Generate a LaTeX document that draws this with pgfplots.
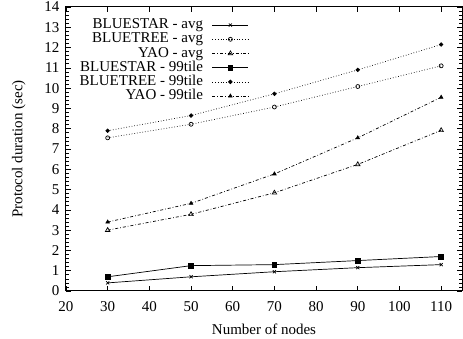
\documentclass[border=0pt]{standalone}
\usepackage{fontspec}
\setmainfont{Liberation Serif}
\usepackage{pgfplots}
\pgfplotsset{compat=1.18}
\begin{document}
\begin{tikzpicture}
\begin{axis}[
  name=main,
  scale only axis,
  width=396pt, height=284pt,
  xmin=20, xmax=115, ymin=0, ymax=14,
  xtick={20,30,...,110},
  ytick={0,1,...,14},
  minor y tick num=4,
  tick align=inside,
  tick pos=both,
  major tick length=5pt, minor tick length=3pt,
  axis line style={line width=1pt},
  tick style={black, line width=0.6pt},
  /pgf/number format/assume math mode=true,
  ticklabel style={font=\fontsize{15}{17}\selectfont},
  xticklabel style={yshift=-7pt},
  yticklabel style={xshift=-3pt},
  label style={font=\fontsize{15}{17}\selectfont},
  xlabel={Number of nodes},
  ylabel={Protocol duration (sec)},
  xlabel style={yshift=-5pt},
  ylabel style={yshift=12pt},
  legend plot pos=right,
  legend cell align=right,
  legend image code/.code={
    \draw[mark repeat=2,mark phase=2,#1] plot coordinates {(0pt,0pt) (18pt,0pt) (36pt,0pt)};
  },
  legend style={draw=none, fill=none, at={(0.462,0.962)}, anchor=north east,
    font=\fontsize{15}{15}\selectfont, row sep=0pt, inner sep=0pt,
    nodes={text height=9.6pt, text depth=2.4pt, inner ysep=1.1pt},
    /tikz/every odd column/.append style={column sep=7pt}},
  every axis plot/.append style={line width=0.7pt, black},
]
\addplot[solid, mark=x, mark size=2.2pt, mark options={solid}] coordinates {(30,0.4) (50,0.7) (70,0.95) (90,1.15) (110,1.3)};
\addlegendentry{BLUESTAR - avg}
\addplot[dotted, mark=o, mark size=2pt, mark options={solid}] coordinates {(30,7.55) (50,8.22) (70,9.07) (90,10.08) (110,11.1)};
\addlegendentry{BLUETREE - avg}
\addplot[dash dot, mark=triangle, mark size=2.6pt, mark options={solid}] coordinates {(30,3.0) (50,3.78) (70,4.84) (90,6.24) (110,7.92)};
\addlegendentry{YAO - avg}
\addplot[solid, mark=square*, mark size=2.4pt, mark options={solid}] coordinates {(30,0.7) (50,1.25) (70,1.3) (90,1.5) (110,1.7)};
\addlegendentry{BLUESTAR - 99tile}
\addplot[dotted, mark=*, mark size=1.8pt, mark options={solid}] coordinates {(30,7.9) (50,8.65) (70,9.72) (90,10.9) (110,12.15)};
\addlegendentry{BLUETREE - 99tile}
\addplot[dash dot, mark=triangle*, mark size=2pt, mark options={solid}] coordinates {(30,3.4) (50,4.32) (70,5.77) (90,7.55) (110,9.55)};
\addlegendentry{YAO - 99tile}
\end{axis}
\pgfresetboundingbox
\path[use as bounding box] ([shift={(-66pt,-48pt)}]main.south west) rectangle ([shift={(1pt,7pt)}]main.north east);
\end{tikzpicture}
\end{document}
